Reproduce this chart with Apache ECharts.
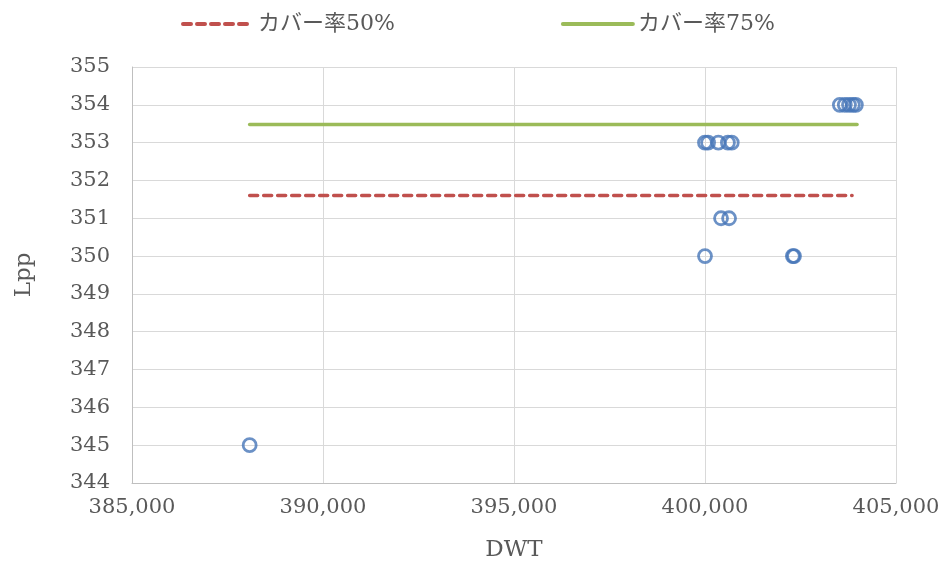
<!DOCTYPE html>
<html>
<head>
<meta charset="utf-8">
<script src="https://cdn.jsdelivr.net/npm/echarts@6/dist/echarts.min.js"></script>
<style>
  html, body { margin: 0; padding: 0; background: #fff; }
  #chart { width: 940px; height: 567px; }
</style>
</head>
<body>
<div id="chart"></div>
<script>
// Ship records: deadweight tonnage vs length between perpendiculars
const dwt = [388080, 400000, 402300, 402330, 400420, 400630,
             400000, 400080, 400350, 400600, 400700,
             403530, 403660, 403770, 403870, 403950];
const lpp = [345, 350, 350, 350, 351, 351,
             353, 353, 353, 353, 353,
             354, 354, 354, 354, 354];

// Coverage lines (x range and level)
const cover50Name = 'カバー率50%';
const cover50X = [388080, 403850];
const cover50Y = 351.6;
const cover75Name = 'カバー率75%';
const cover75X = [388080, 403980];
const cover75Y = 353.48;

// Axis settings
const xMin = 385000, xMax = 405000, xStep = 5000;
const yMin = 344, yMax = 355, yStep = 1;

const fontSerif = '"DejaVu Serif", "Noto Sans CJK JP", serif';
const textColor = '#595959';

const chart = echarts.init(document.getElementById('chart'));
chart.setOption({
  animation: false,
  backgroundColor: '#ffffff',
  grid: { left: 132, right: 44, top: 67, bottom: 84, outerBoundsMode: 'none', containLabel: false },
  legend: {
    data: [cover50Name, cover75Name],
    top: 8,
    left: 176,
    itemWidth: 70,
    itemHeight: 14,
    itemGap: 166,
    itemStyle: { opacity: 0 },
    lineStyle: { width: 4, cap: 'round' },
    textStyle: { fontFamily: fontSerif, fontSize: 22, color: textColor }
  },
  xAxis: {
    type: 'value',
    min: xMin, max: xMax, interval: xStep,
    name: 'DWT',
    nameLocation: 'middle',
    nameGap: 56,
    nameTextStyle: { fontFamily: fontSerif, fontSize: 23, color: textColor },
    axisLine: { show: true, lineStyle: { color: '#bfbfbf', width: 1 } },
    axisTick: { show: false },
    axisLabel: {
      fontFamily: fontSerif, fontSize: 21, color: textColor, margin: 14,
      formatter: v => v.toLocaleString('en-US')
    },
    splitLine: { show: true, lineStyle: { color: '#d9d9d9', width: 1 } }
  },
  yAxis: {
    type: 'value',
    min: yMin, max: yMax, interval: yStep,
    name: 'Lpp',
    nameLocation: 'middle',
    nameGap: 96,
    nameTextStyle: { fontFamily: fontSerif, fontSize: 23, color: textColor },
    axisLine: { show: true, lineStyle: { color: '#bfbfbf', width: 1 } },
    axisTick: { show: false },
    axisLabel: { fontFamily: fontSerif, fontSize: 21, color: textColor, margin: 22 },
    splitLine: { show: true, lineStyle: { color: '#d9d9d9', width: 1 } }
  },
  series: [
    {
      name: 'Lpp',
      type: 'scatter',
      data: dwt.map((x, i) => [x, lpp[i]]),
      symbol: 'circle',
      symbolSize: 13,
      itemStyle: { color: 'rgba(0,0,0,0)', borderColor: '#4676b8', borderWidth: 2.8 },
      z: 3
    },
    {
      name: cover50Name,
      type: 'line',
      data: cover50X.map(x => [x, cover50Y]),
      symbol: 'none',
      lineStyle: { color: '#c0504d', width: 3.5, type: [8, 6], cap: 'round' },
      itemStyle: { color: '#c0504d' },
      z: 2
    },
    {
      name: cover75Name,
      type: 'line',
      data: cover75X.map(x => [x, cover75Y]),
      symbol: 'none',
      lineStyle: { color: '#9bbb59', width: 3.5, cap: 'round' },
      itemStyle: { color: '#9bbb59' },
      z: 2
    }
  ]
});
</script>
</body>
</html>
